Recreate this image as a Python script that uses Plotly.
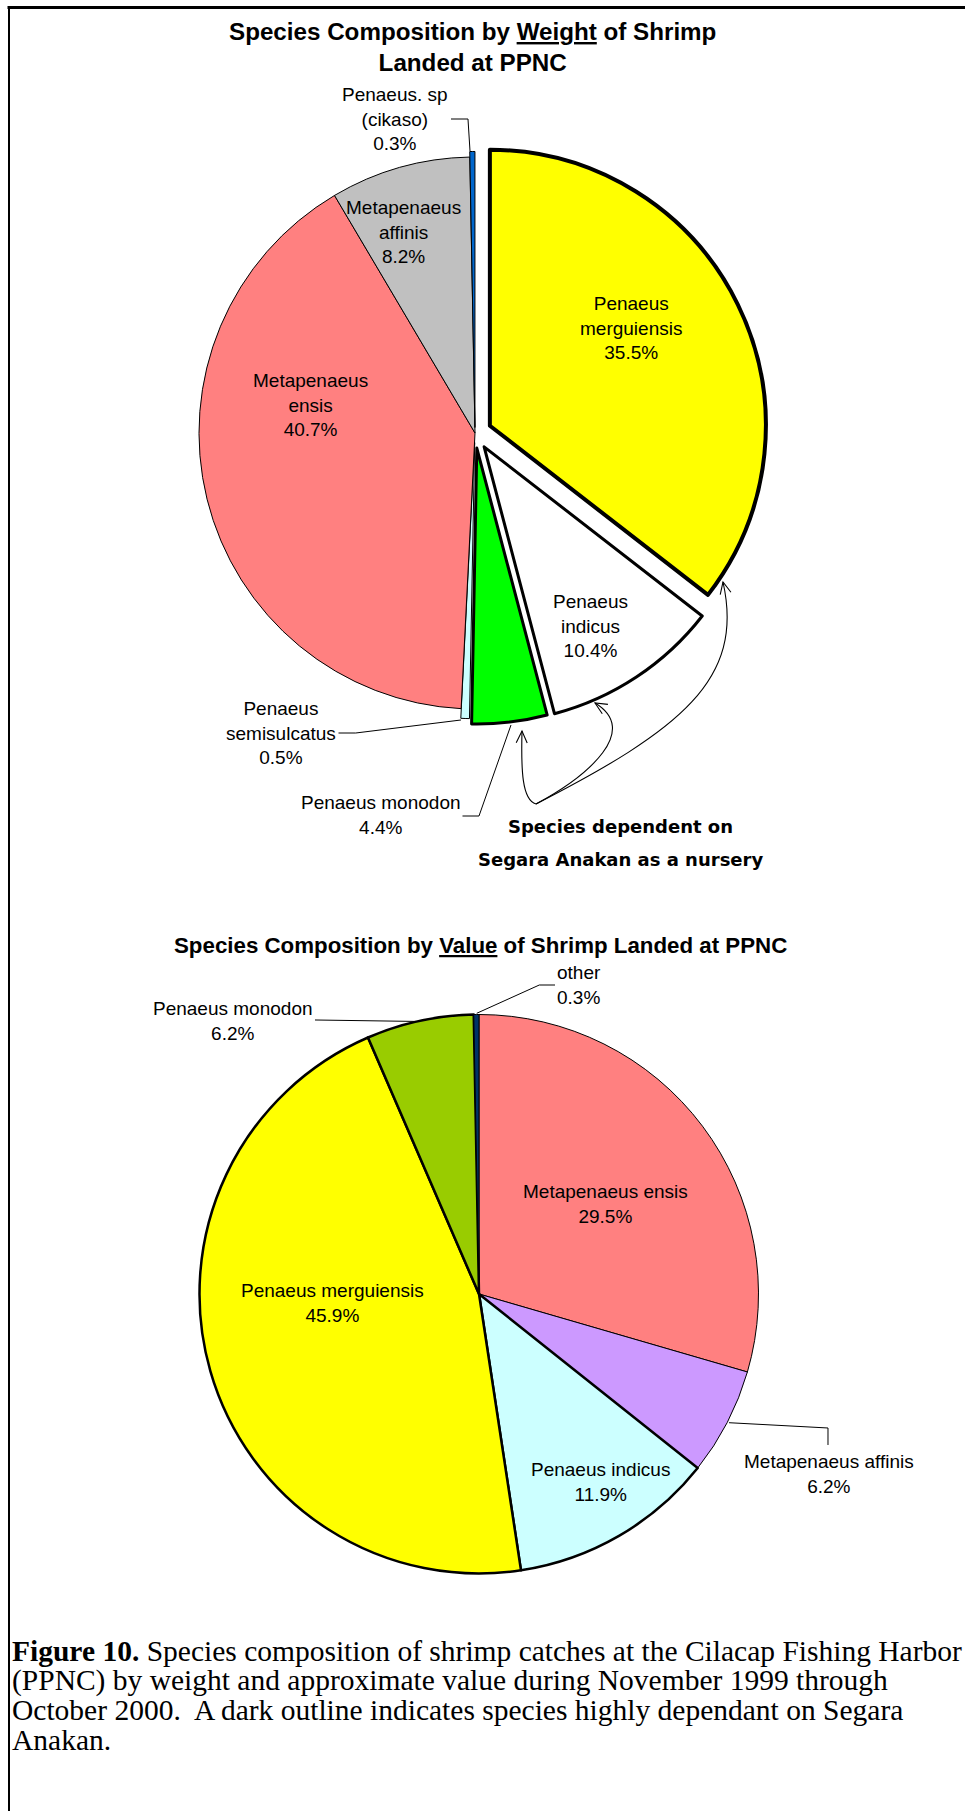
import math

import plotly.graph_objects as go

W, H = 965, 1811

# Composizione per peso (ordine orario da ore 12)
weight_labels = ["Penaeus<br>merguiensis", "Penaeus<br>indicus", "Penaeus monodon",
                 "Penaeus<br>semisulcatus", "Metapenaeus<br>ensis", "Metapenaeus<br>affinis",
                 "Penaeus. sp<br>(cikaso)"]
weight_pct = [35.5, 10.4, 4.4, 0.5, 40.7, 8.2, 0.3]

# Composizione per valore
value_labels = ["Metapenaeus ensis", "Metapenaeus affinis", "Penaeus indicus",
                "Penaeus merguiensis", "Penaeus monodon", "other"]
value_pct = [29.5, 6.2, 11.9, 45.9, 6.2, 0.3]

caption_lines = [
    "<b>Figure 10.</b> Species composition of shrimp catches at the Cilacap Fishing Harbor",
    "(PPNC) by weight and approximate value during November 1999 through",
    "October 2000.  A dark outline indicates species highly dependant on Segara",
    "Anakan.",
]
nursery_lines = ["Species dependent on", "Segara Anakan as a nursery"]

# Stili
weight_colors = ["#FFFF00", "#FFFFFF", "#00FF00", "#CCFFFF", "#FF8080", "#C0C0C0", "#0066CC"]
weight_pull = [0.06, 0.06, 0.055, 0.035, 0, 0, 0.02]
weight_lw = [4, 3, 3, 1, 1, 1, 1]
value_colors = ["#FF8080", "#CC99FF", "#CCFFFF", "#FFFF00", "#99CC00", "#003366"]
value_lw = [1, 1, 2.5, 2.5, 2.5, 1]

SANS = "Liberation Sans, Arial, sans-serif"
SERIF = "Liberation Serif, Times New Roman, serif"


def px(x):
    return x / W


def py(y):
    return 1 - y / H


def pie_domain(cx, cy, r, pull):
    half = r * (1 + pull)
    return dict(x=[px(cx - half), px(cx + half)], y=[py(cy + half), py(cy - half)])


def polyline(pts):
    return "M " + " L ".join(f"{px(x):.5f},{py(y):.5f}" for x, y in pts)


fig = go.Figure()

fig.add_trace(go.Pie(
    labels=weight_labels, values=weight_pct, sort=False, direction="clockwise",
    rotation=0, pull=weight_pull, textinfo="none", hoverinfo="label+percent",
    marker=dict(colors=weight_colors, line=dict(color="black", width=weight_lw)),
    domain=pie_domain(475, 433, 276, max(weight_pull)), showlegend=False,
))
fig.add_trace(go.Pie(
    labels=value_labels, values=value_pct, sort=False, direction="clockwise",
    rotation=0, textinfo="none", hoverinfo="label+percent",
    marker=dict(colors=value_colors, line=dict(color="black", width=value_lw)),
    domain=pie_domain(479, 1294, 279.5, 0), showlegend=False,
))

annotations = []


def add_text(text, x, y, size, family=SANS, xanchor="center"):
    annotations.append(dict(
        text=text, x=px(x), y=py(y), xref="paper", yref="paper",
        xanchor=xanchor, yanchor="middle", showarrow=False,
        font=dict(family=family, size=size, color="black"),
        align="left" if xanchor == "left" else "center",
    ))


# Titoli
add_text("<b>Species Composition by <u>Weight</u> of Shrimp<br>Landed at PPNC</b>", 472, 46.5, 24.2)
add_text("<b>Species Composition by <u>Value</u> of Shrimp Landed at PPNC</b>", 480, 945, 22.3)

# Etichette torta peso
weight_pos = [(631, 328), (590, 626), (380.5, 815), (280.5, 733), (310, 404.5), (403, 232), (395, 118.5)]
for lab, pct, (x, y) in zip(weight_labels, weight_pct, weight_pos):
    add_text(f"{lab}<br>{pct:.1f}%", x, y, 19)

# Etichette torta valore
value_pos = [(605, 1204), (829, 1473.5), (600, 1481.5), (332, 1303), (232.5, 1020.5), (579, 985)]
for lab, pct, (x, y) in zip(value_labels, value_pct, value_pos):
    add_text(f"{lab}<br>{pct:.1f}%", x, y, 19)

# Nota vivaio
for line, y in zip(nursery_lines, [826.5, 859]):
    add_text(f"<b>{line}</b>", 620.5, y, 18, family="Comic Sans MS, DejaVu Sans, sans-serif")

# Didascalia
for line, y in zip(caption_lines, [1651, 1680.5, 1710, 1739.5]):
    add_text(line, 9.5, y, 29.5, family=SERIF, xanchor="left")

shapes = []

# Cornice
shapes.append(dict(type="line", xref="paper", yref="paper", x0=px(7.5), x1=1.02,
                   y0=py(7.5), y1=py(7.5), line=dict(color="black", width=3)))
shapes.append(dict(type="line", xref="paper", yref="paper", x0=px(9), x1=px(9),
                   y0=py(7.5), y1=-0.02, line=dict(color="black", width=2)))

# Linee guida delle etichette
leaders = [
    [(451, 119), (468, 119), (470, 151)],
    [(338.5, 733), (355.7, 733), (461, 720)],
    [(462.5, 816), (479, 816), (511, 725)],
    [(555, 985), (539.3, 985), (476.7, 1013.3)],
    [(315, 1020), (420, 1021.5)],
    [(729, 1422.7), (828, 1428), (828, 1445)],
]
for pts in leaders:
    shapes.append(dict(type="path", xref="paper", yref="paper", path=polyline(pts),
                       line=dict(color="black", width=1)))

# Frecce curve verso le specie dipendenti
origin = (536, 804)
curves = [
    [(522, 800), (521, 770), (522, 731)],
    [(590, 775), (640, 730), (595, 703)],
    [(680, 730), (745, 680), (723, 582)],
]
for c1, c2, end in curves:
    path = (f"M {px(origin[0]):.5f},{py(origin[1]):.5f} "
            f"C {px(c1[0]):.5f},{py(c1[1]):.5f} {px(c2[0]):.5f},{py(c2[1]):.5f} "
            f"{px(end[0]):.5f},{py(end[1]):.5f}")
    shapes.append(dict(type="path", xref="paper", yref="paper", path=path,
                       line=dict(color="black", width=1.1)))
    # punta aperta
    dx, dy = end[0] - c2[0], end[1] - c2[1]
    n = math.hypot(dx, dy)
    ux, uy = dx / n, dy / n
    head = []
    for a in (math.radians(25), -math.radians(25)):
        rx = ux * math.cos(a) - uy * math.sin(a)
        ry = ux * math.sin(a) + uy * math.cos(a)
        head.append((end[0] - 13 * rx, end[1] - 13 * ry))
    shapes.append(dict(type="path", xref="paper", yref="paper",
                       path=polyline([head[0], end, head[1]]),
                       line=dict(color="black", width=1.1)))

fig.update_layout(
    width=W, height=H,
    margin=dict(l=0, r=0, t=0, b=0),
    paper_bgcolor="white", plot_bgcolor="white",
    annotations=annotations, shapes=shapes,
    showlegend=False,
)

# tolgo il margine di default del body, cosi' il grafico parte da (0, 0)
fig.write_html("out.html", config={"displayModeBar": False},
               post_script="document.body.style.margin = '0';")
